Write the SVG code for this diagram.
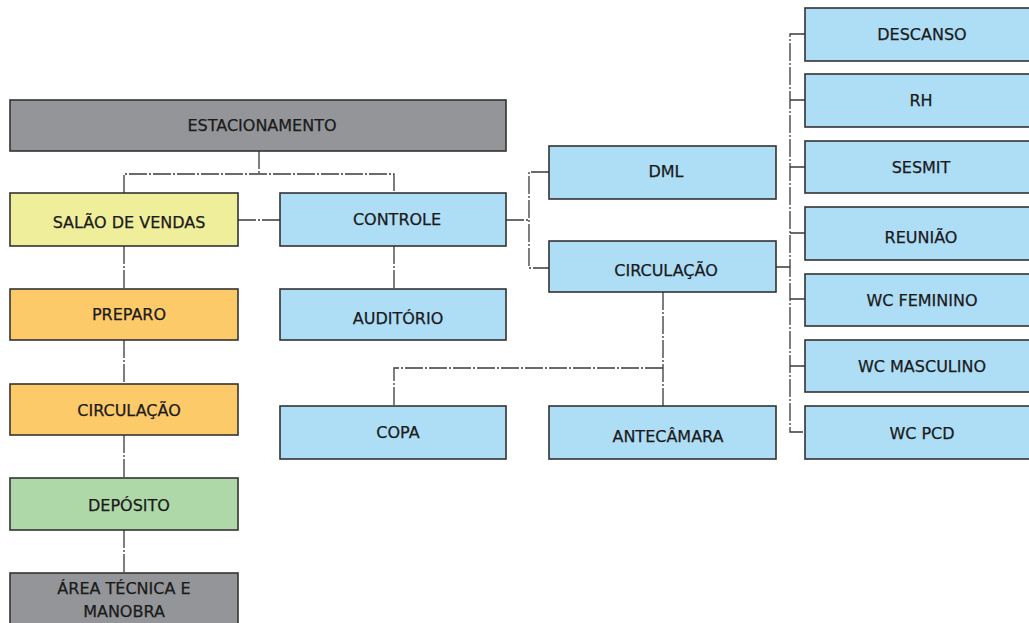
<svg xmlns="http://www.w3.org/2000/svg" width="1029" height="623" viewBox="0 0 1029 623">
  <style>
    .box { stroke: #333333; stroke-width: 1.6; }
    .gray { fill: #939598; }
    .yellow { fill: #EEEE9B; }
    .orange { fill: #FDCA6A; }
    .green { fill: #AFD8A9; }
    .blue { fill: #AEDDF6; }
    text { font-family: "DejaVu Sans", Verdana, sans-serif; font-size: 16px; fill: #1a1a1a; text-anchor: middle; stroke: #1a1a1a; stroke-width: 0.25; }
    .link { fill: none; stroke: #3a3a3a; stroke-width: 1.3; stroke-dasharray: 18 2 2 2; }
  </style>
  <rect width="1029" height="623" fill="#ffffff"/>

  <!-- connectors -->
  <g id="connectors">
    <path class="link" d="M259 151 V174 M124 193 V174 H394 V193"/>
    <path class="link" d="M238 220 H280"/>
    <path class="link" d="M124 246 V289 M124 340 V384 M124 435 V478 M124 530 V573"/>
    <path class="link" d="M394 246 V289"/>
    <path class="link" d="M506 220 H529 M549 172 H529 V268 H549"/>
    <path class="link" d="M663 292 V406 M663 368 H394 V406"/>
    <path class="link" d="M776 267 H790 M805 34 H790 V432 H805 M790 100 H805 M790 167 H805 M790 233 H805 M790 299 H805 M790 366 H805"/>
  </g>

  <!-- left column -->
  <g id="estacionamento">
    <rect class="box gray" x="10" y="100" width="496" height="51"/>
    <text x="262" y="131">ESTACIONAMENTO</text>
  </g>
  <g id="salao-de-vendas">
    <rect class="box yellow" x="10" y="193" width="228" height="53"/>
    <text x="129" y="228">SALÃO DE VENDAS</text>
  </g>
  <g id="preparo">
    <rect class="box orange" x="10" y="289" width="228" height="51"/>
    <text x="129" y="320">PREPARO</text>
  </g>
  <g id="circulacao-vendas">
    <rect class="box orange" x="10" y="384" width="228" height="51"/>
    <text x="129" y="416">CIRCULAÇÃO</text>
  </g>
  <g id="deposito">
    <rect class="box green" x="10" y="478" width="228" height="52"/>
    <text x="129" y="511">DEPÓSITO</text>
  </g>
  <g id="area-tecnica">
    <rect class="box gray" x="10" y="573" width="228" height="60"/>
    <text x="124" y="594">ÁREA TÉCNICA E</text>
    <text x="124" y="617">MANOBRA</text>
  </g>

  <!-- middle column -->
  <g id="controle">
    <rect class="box blue" x="280" y="193" width="226" height="53"/>
    <text x="397" y="225">CONTROLE</text>
  </g>
  <g id="auditorio">
    <rect class="box blue" x="280" y="289" width="226" height="51"/>
    <text x="398" y="324">AUDITÓRIO</text>
  </g>
  <g id="copa">
    <rect class="box blue" x="280" y="406" width="226" height="53"/>
    <text x="398" y="438">COPA</text>
  </g>
  <g id="dml">
    <rect class="box blue" x="549" y="146" width="227" height="53"/>
    <text x="666" y="177">DML</text>
  </g>
  <g id="circulacao-controle">
    <rect class="box blue" x="549" y="241" width="227" height="51"/>
    <text x="666" y="276">CIRCULAÇÃO</text>
  </g>
  <g id="antecamara">
    <rect class="box blue" x="549" y="406" width="227" height="53"/>
    <text x="668" y="442">ANTECÂMARA</text>
  </g>

  <!-- right column -->
  <g id="descanso">
    <rect class="box blue" x="805" y="8" width="240" height="53"/>
    <text x="922" y="40">DESCANSO</text>
  </g>
  <g id="rh">
    <rect class="box blue" x="805" y="74" width="240" height="53"/>
    <text x="921" y="106">RH</text>
  </g>
  <g id="sesmit">
    <rect class="box blue" x="805" y="141" width="240" height="52"/>
    <text x="921" y="173">SESMIT</text>
  </g>
  <g id="reuniao">
    <rect class="box blue" x="805" y="207" width="240" height="53"/>
    <text x="921" y="243">REUNIÃO</text>
  </g>
  <g id="wc-feminino">
    <rect class="box blue" x="805" y="274" width="240" height="52"/>
    <text x="922" y="306">WC FEMININO</text>
  </g>
  <g id="wc-masculino">
    <rect class="box blue" x="805" y="340" width="240" height="52"/>
    <text x="922" y="372">WC MASCULINO</text>
  </g>
  <g id="wc-pcd">
    <rect class="box blue" x="805" y="406" width="240" height="53"/>
    <text x="922" y="439">WC PCD</text>
  </g>
</svg>
